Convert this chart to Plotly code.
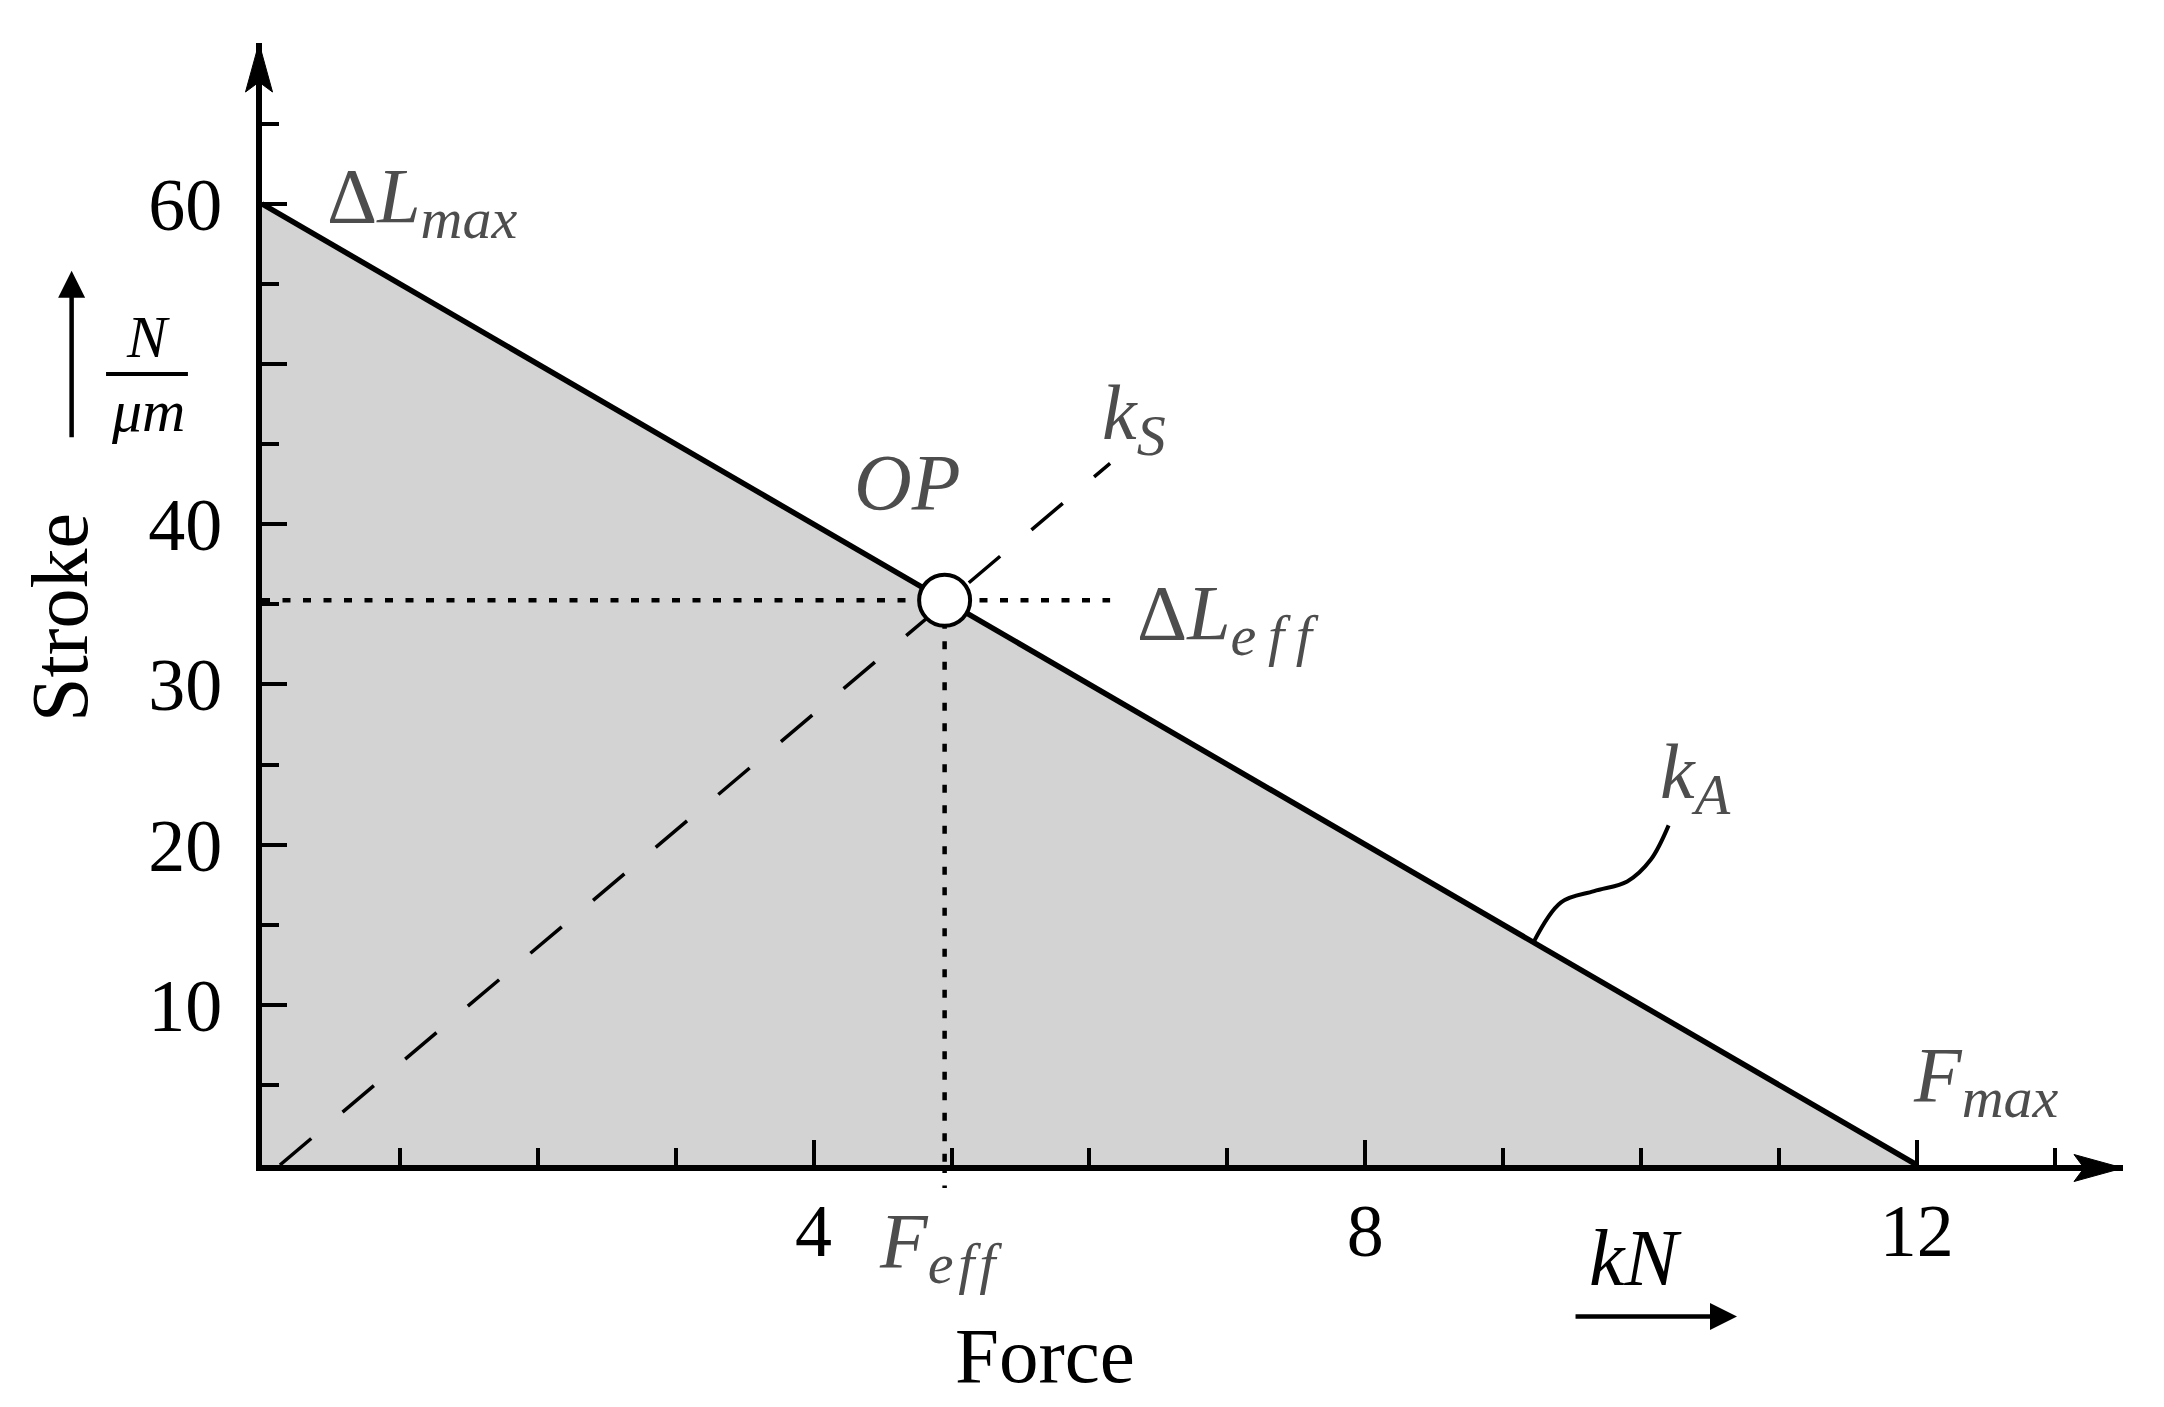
import plotly.graph_objects as go

# actuator line (stroke vs. force)
force_ka = [0, 12]
stroke_ka = [60, 0]

# load line k_S
force_ks = [0.13, 6.15]
stroke_ks = [0, 43.8]

# operating point
F_EFF = 4.95
DL_EFF = 35.25
DOTTED_END_X = 6.15

# wavy leader to the k_A label
leader_x = [9.22, 9.42, 9.66, 9.90, 10.07, 10.20]
leader_y = [13.9, 16.4, 17.1, 17.7, 19.05, 21.2]

x_major = [4, 8, 12]
x_major_text = ["4", "8", "12"]
y_major = [10, 20, 30, 40, 50, 60]
y_major_text = ["10", "20", "30", "40", "", "60"]

X_MAX = 13.495
Y_MAX = 70.04

FONT = "Liberation Serif"
GREY = "#4d4d4d"
BIG = 74
LAB = 78


def sub(t):
    return "<sub><span style='font-size:58px'>" + t + "</span></sub>"


fig = go.Figure()

fig.add_trace(go.Scatter(
    x=force_ka, y=stroke_ka,
    mode="lines",
    fill="tozeroy",
    fillcolor="#d3d3d3",
    line=dict(color="black", width=5.5),
))

fig.add_trace(go.Scatter(
    x=force_ks, y=stroke_ks,
    mode="lines",
    line=dict(color="black", width=3.5, dash="41px,41px"),
))

fig.add_trace(go.Scatter(
    x=[0, DOTTED_END_X], y=[DL_EFF, DL_EFF],
    mode="lines",
    line=dict(color="black", width=4.5, dash="8px,12.5px"),
))

fig.add_trace(go.Scatter(
    x=[F_EFF, F_EFF], y=[DL_EFF, 0],
    mode="lines",
    line=dict(color="black", width=4.5, dash="8px,12.5px"),
))

fig.add_trace(go.Scatter(
    x=leader_x, y=leader_y,
    mode="lines",
    line=dict(color="black", width=4, shape="spline"),
))

fig.add_trace(go.Scatter(
    x=[F_EFF], y=[DL_EFF],
    mode="markers",
    marker=dict(size=51, color="white", line=dict(color="black", width=4)),
))


def lab(text, x, y, xanchor="center", color=GREY, size=LAB, xref="x", yref="y"):
    return dict(text=text, x=x, y=y, xref=xref, yref=yref,
                xanchor=xanchor, yanchor="middle", showarrow=False,
                font=dict(family=FONT, size=size, color=color))


EFF_WIDE = "e\u2009f\u2009f"
EFF_TIGHT = "e\u200af\u200af"

annotations = [
    lab("Δ<i>L" + sub("max") + "</i>", 0.46, 60.15, xanchor="left"),
    lab("<i>OP</i>", 4.68, 42.55, size=80),
    lab("<i>k" + sub("S") + "</i>", 6.08, 46.6, xanchor="left"),
    lab("Δ<i>L" + sub(EFF_WIDE) + "</i>", 6.33, 34.1, xanchor="left"),
    lab("<i>k" + sub("A") + "</i>", 10.12, 24.2, xanchor="left"),
    lab("<i>F" + sub("max") + "</i>", 11.96, 5.3, xanchor="left"),
    # below the x axis, in paper units
    lab("<i>F" + sub(EFF_TIGHT) + "</i>", 4.92, -0.073, yref="paper"),
    lab("<i>kN</i>", 9.96, -0.083, color="black", size=80, yref="paper"),
    lab("Force", 5.68, -0.170, color="black", size=79, yref="paper"),
    # left of the y axis, in paper units
    dict(text="Stroke", x=-0.1083, y=0.488, xref="paper", yref="paper",
         textangle=-90, showarrow=False, xanchor="center", yanchor="middle",
         font=dict(family=FONT, size=80, color="black")),
    dict(text="<i>N</i>", x=-0.0613, y=0.708, xref="paper", yref="paper",
         showarrow=False, xanchor="center", yanchor="bottom", borderpad=0,
         font=dict(family=FONT, size=60, color="black")),
    dict(text="<i>μm</i>", x=-0.0613, y=0.702, xref="paper", yref="paper",
         showarrow=False, xanchor="center", yanchor="top", borderpad=0,
         font=dict(family=FONT, size=60, color="black")),
    # unit arrows
    dict(x=-0.1023, y=0.797, ax=0, ay=168, xref="paper", yref="paper",
         axref="pixel", ayref="pixel", text="", showarrow=True,
         arrowhead=2, arrowwidth=4.5, arrowsize=1.2, arrowcolor="black"),
    dict(x=0.7926, y=-0.135, ax=-163, ay=0, xref="paper", yref="paper",
         axref="pixel", ayref="pixel", text="", showarrow=True,
         arrowhead=2, arrowwidth=4.5, arrowsize=1.2, arrowcolor="black"),
]

shapes = [
    # axis arrow heads
    dict(type="path", xref="paper", yref="paper", xsizemode="pixel", ysizemode="pixel",
         xanchor=1, yanchor=0, path="M0,-3 L-49,10.5 L-39,-3 L-49,-16.5 Z",
         fillcolor="black", line=dict(color="black", width=1), layer="above"),
    dict(type="path", xref="paper", yref="paper", xsizemode="pixel", ysizemode="pixel",
         xanchor=0, yanchor=1, path="M-3,0 L10.5,-49 L-3,-39 L-16.5,-49 Z",
         fillcolor="black", line=dict(color="black", width=1), layer="above"),
    # dotted drop line continuing below the axis
    dict(type="line", xref="x", yref="paper", x0=F_EFF, x1=F_EFF, y0=0, y1=-0.0205,
         line=dict(color="black", width=4.5, dash="8px,12.5px"), layer="above"),
    # fraction bar of N/μm
    dict(type="line", xref="paper", yref="paper", x0=-0.0838, x1=-0.0398,
         y0=0.705, y1=0.705, line=dict(color="black", width=4)),
]

axis_common = dict(
    showgrid=False,
    zeroline=False,
    showline=True,
    linecolor="black",
    linewidth=6,
    ticks="inside",
    ticklen=25,
    tickwidth=3.5,
    tickcolor="black",
    tickmode="array",
    tickfont=dict(family=FONT, size=BIG, color="black"),
)

fig.update_layout(
    width=2164,
    height=1407,
    showlegend=False,
    paper_bgcolor="white",
    plot_bgcolor="white",
    margin=dict(l=262, r=41, t=43, b=242, pad=0),
    xaxis=dict(
        range=[0, X_MAX],
        tickvals=x_major,
        ticktext=x_major_text,
        ticklabelstandoff=-4,
        minor=dict(ticks="inside", ticklen=17, tickwidth=3.5, tickcolor="black",
                   tickmode="linear", tick0=0, dtick=1, showgrid=False),
        **axis_common,
    ),
    yaxis=dict(
        range=[0, Y_MAX],
        tickvals=y_major,
        ticktext=y_major_text,
        ticklabelstandoff=19,
        minor=dict(ticks="inside", ticklen=17, tickwidth=3.5, tickcolor="black",
                   tickmode="linear", tick0=0, dtick=5, showgrid=False),
        **axis_common,
    ),
    annotations=annotations,
    shapes=shapes,
)

fig.write_html("out.html", config={"displayModeBar": False},
               post_script="document.body.style.margin='0px';")
